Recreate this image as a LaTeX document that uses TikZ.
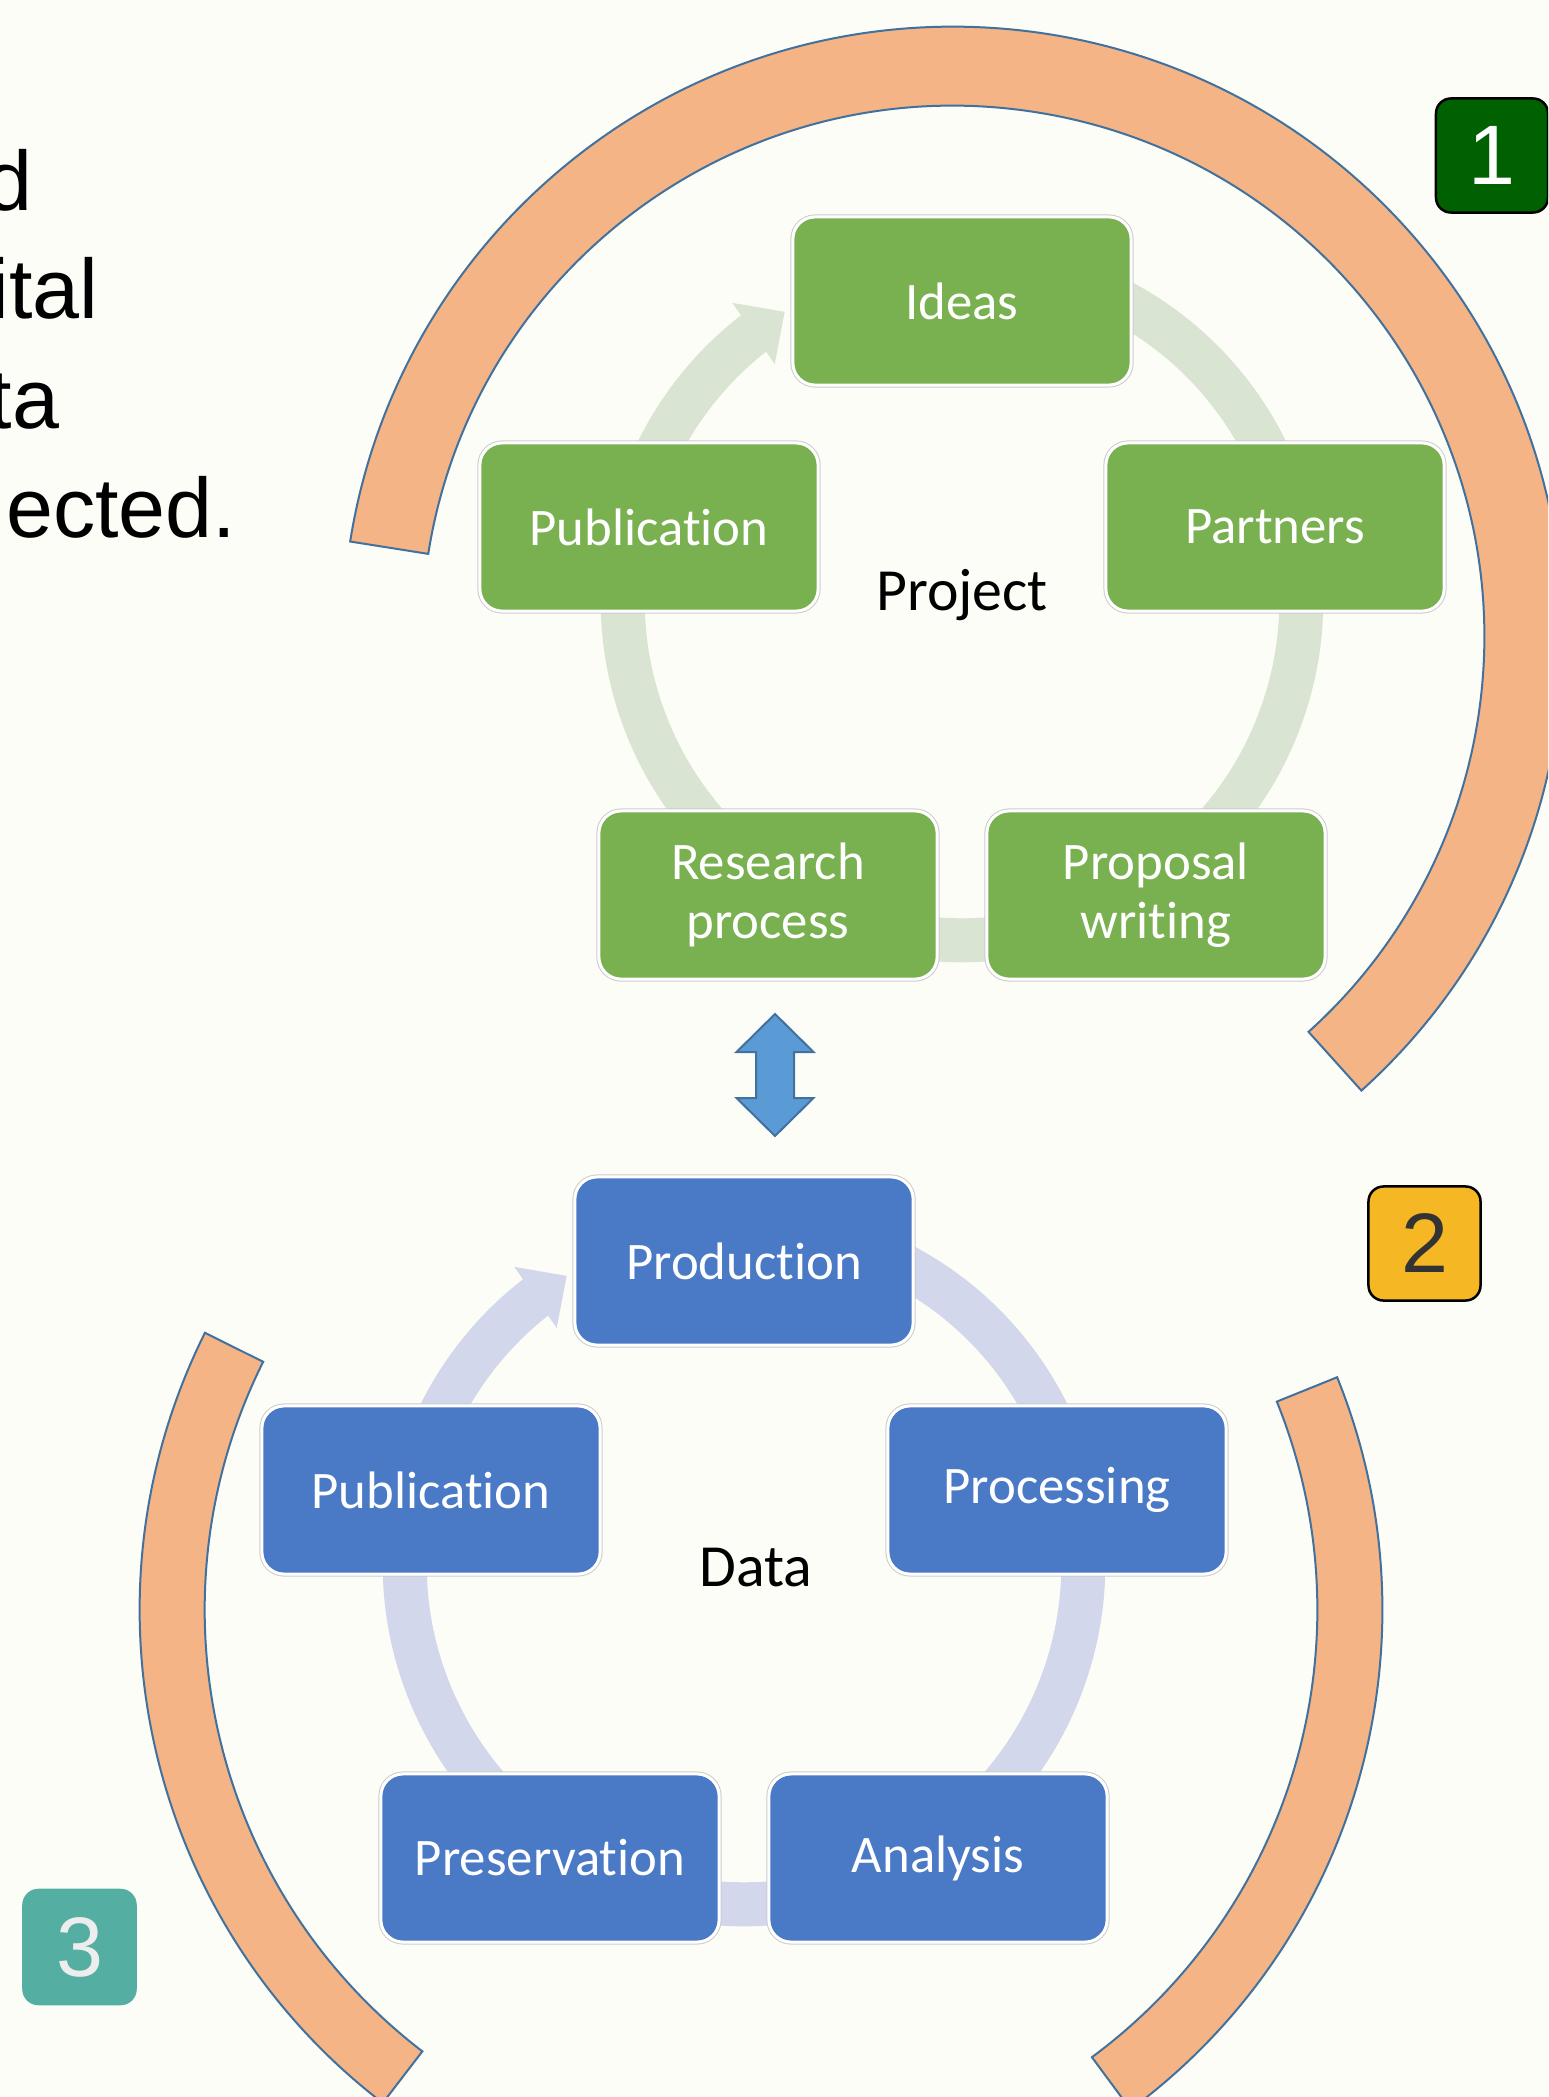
\documentclass[tikz,border=0pt]{standalone}
\usepackage{fontspec}
\setmainfont{Carlito}[Ligatures=CommonOff]
\newfontfamily\arialfont{Liberation Sans}
\usepackage{tikz}
\usetikzlibrary{positioning,arrows.meta,calc,bending}
\definecolor{bgcream}{RGB}{253,253,248}
\definecolor{projgreen}{RGB}{121,176,80}
\definecolor{projring}{RGB}{217,228,210}
\definecolor{datablue}{RGB}{74,121,197}
\definecolor{dataring}{RGB}{210,215,235}
\definecolor{bandfill}{RGB}{244,180,134}
\definecolor{bandline}{RGB}{65,113,156}
\definecolor{linkblue}{RGB}{91,155,213}
\definecolor{badgegreen}{RGB}{0,97,0}
\definecolor{badgeamber}{RGB}{245,183,35}
\definecolor{badgeteal}{RGB}{84,174,161}
\tikzset{
  stepbase/.style={rounded corners=0.22cm, minimum width=3.38cm, minimum height=1.68cm,
                   inner sep=0pt, align=center, text=white, font=\fontsize{15}{16.8}\selectfont,
                   draw=white, line width=0.03cm, preaction={draw=black!20, line width=0.05cm}},
  projbox/.style={stepbase, fill=projgreen},
  databox/.style={stepbase, fill=datablue},
  cyclelbl/.style={font=\fontsize{17}{20}\selectfont, text=black, inner sep=0pt},
  ringarrow/.style={line width=0.44cm, -{Triangle[length=0.38cm, width=0.72cm, flex]}},
  band/.style={fill=bandfill, draw=bandline, line width=0.02cm},
  linkarrow/.style={fill=linkblue, draw=bandline, line width=0.02cm},
  badge/.style={rounded corners=0.15cm, inner sep=0pt, line width=0.025cm,
                minimum width=1.12cm, minimum height=1.14cm,
                font=\arialfont\fontsize{24}{28}\selectfont},
  sidetext/.style={anchor=base east, inner sep=0pt, font=\arialfont\fontsize{24}{28}\selectfont}
}

\begin{document}
\begin{tikzpicture}[x=0.01cm, y=0.01cm]
\fill[bgcream] (0,0) rectangle (1548,-2097);
\clip (0,0) rectangle (1548,-2097);
% centres of the orange bands and of the two cycles
\coordinate (bandtop) at (953,-637);
\coordinate (bandlow) at (761,-1610);
\coordinate (pc) at (962,-601);
\coordinate (dc) at (744,-1565);
\coordinate (link) at (775,-1075);

\draw[band] ($(bandtop)+(-48:6.10cm)$) arc[start angle=-48, end angle=171, radius=6.10cm]
  -- ($(bandtop)+(171:5.31cm)$) arc[start angle=171, end angle=-48, radius=5.31cm] -- cycle;
\draw[band] ($(bandlow)+(153.5:6.21cm)$) arc[start angle=153.5, end angle=232.5, radius=6.21cm]
  -- ($(bandlow)+(232.5:5.56cm)$) arc[start angle=232.5, end angle=153.5, radius=5.56cm] -- cycle;
\draw[band] ($(bandlow)+(-53.5:6.21cm)$) arc[start angle=-53.5, end angle=22, radius=6.21cm]
  -- ($(bandlow)+(22:5.56cm)$) arc[start angle=22, end angle=-53.5, radius=5.56cm] -- cycle;

\draw[ringarrow, projring] ($(pc)+(70:3.39cm)$) arc[start angle=70, end angle=-238.5, radius=3.39cm];
\draw[ringarrow, dataring] ($(dc)+(70:3.39cm)$) arc[start angle=70, end angle=-238.5, radius=3.39cm];

\node[projbox] (ideas) at ($(pc)+(0,300)$) {Ideas};
\node[projbox] (partners) at ($(pc)+(313,74)$) {Partners};
\node[projbox] (proposal) at ($(pc)+(194,-294)$) {Proposal\\writing};
\node[projbox] (research) at ($(pc)+(-194,-294)$) {Research\\process};
\node[projbox] (projpub) at ($(pc)+(-313,74)$) {Publication};
\node[cyclelbl] (project) at ($(pc)+(0,6)$) {Project};

\node[databox] (production) at ($(dc)+(0,304)$) {Production};
\node[databox] (processing) at ($(dc)+(313,75)$) {Processing};
\node[databox] (analysis) at ($(dc)+(194,-293)$) {Analysis};
\node[databox] (preservation) at ($(dc)+(-194,-293)$) {Preservation};
\node[databox] (datapub) at ($(dc)+(-313,75)$) {Publication};
\node[cyclelbl] (data) at ($(dc)+(12,-3)$) {Data};

\draw[linkarrow] ($(link)+(0,61)$) -- ($(link)+(38.5,23)$) -- ($(link)+(19,23)$)
  -- ($(link)+(19,-23)$) -- ($(link)+(38.5,-23)$) -- ($(link)+(0,-61)$)
  -- ($(link)+(-38.5,-23)$) -- ($(link)+(-19,-23)$) -- ($(link)+(-19,23)$)
  -- ($(link)+(-38.5,23)$) -- cycle;

\node[badge, fill=badgegreen, draw=black, text=white] (one) at (1492,-155.5) {1};
\node[badge, fill=badgeamber, draw=black, text=black!80] (two) at (1424.5,-1243.5) {2};
\node[badge, fill=badgeteal, draw=badgeteal, text=black!7] (three) at (79.5,-1947) {3};

\node[sidetext] (l1) at (33,-210) {d};
\node[sidetext] (l2) at (99,-318) {ital};
\node[sidetext] (l3) at (60,-428) {ta};
\node[sidetext] (l4) at (237,-537) {ected.};
\end{tikzpicture}
\end{document}
